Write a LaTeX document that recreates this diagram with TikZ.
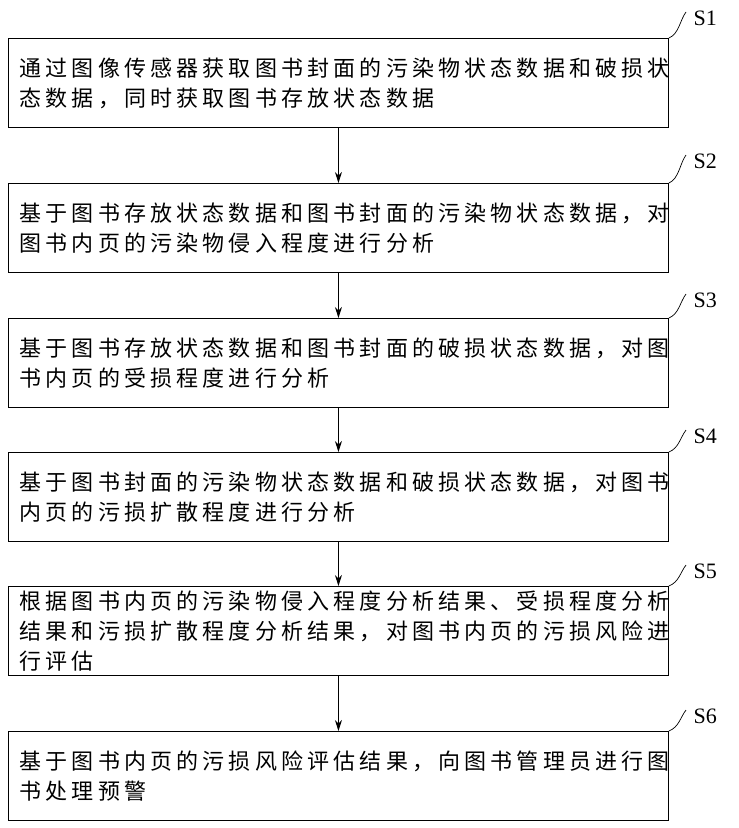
\documentclass[tikz,border=0pt]{standalone}
\usepackage{fontspec}
\newfontfamily\cjk[LetterSpace=19]{Noto Sans CJK SC}
\setmainfont{Liberation Serif}
\usetikzlibrary{arrows.meta}
\tikzset{
  stepbox/.style={draw,line width=0.9pt,minimum width=660pt,minimum height=89pt,
    anchor=north west,inner sep=0pt},
  steptext/.style={anchor=west,align=left,font=\cjk\fontsize{22}{30}\selectfont},
  steplabel/.style={font=\fontsize{22}{24}\selectfont},
  flow/.style={-{Stealth[length=11pt,width=7pt]},line width=0.9pt},
  leader/.style={line width=0.7pt}
}
\begin{document}
\begin{tikzpicture}[x=1pt,y=-1pt]
  \useasboundingbox (0,0) rectangle (739,828);
  % boxes
  \foreach \name/\y in {1/38,2/183,3/318,4/452,5/586,6/731}
    \node[stepbox] (B-\name) at (8,\y) {};
  % texts
  \node[steptext] (T-1) at (16,83) {通过图像传感器获取图书封面的污染物状态数据和破损状\\态数据，同时获取图书存放状态数据};
  \node[steptext] (T-2) at (16,228) {基于图书存放状态数据和图书封面的污染物状态数据，对\\图书内页的污染物侵入程度进行分析};
  \node[steptext] (T-3) at (16,363) {基于图书存放状态数据和图书封面的破损状态数据，对图\\书内页的受损程度进行分析};
  \node[steptext] (T-4) at (16,497) {基于图书封面的污染物状态数据和破损状态数据，对图书\\内页的污损扩散程度进行分析};
  \node[steptext] (T-5) at (16,631) {根据图书内页的污染物侵入程度分析结果、受损程度分析\\结果和污损扩散程度分析结果，对图书内页的污损风险进\\行评估};
  \node[steptext] (T-6) at (16,776) {基于图书内页的污损风险评估结果，向图书管理员进行图\\书处理预警};
  % labels
  \foreach \name/\y in {1/18,2/161,3/300,4/436,5/571,6/716}
    \node[steplabel,anchor=west] (L-\name) at (690,\y) {S\name};
  % leaders
  \foreach \name in {1,...,6}
    \draw[leader] (B-\name.north east) .. controls +(10,-4) and +(-6,8) .. ([xshift=-4pt,yshift=6pt]L-\name.west);
  % arrows
  \foreach \a/\b in {1/2,2/3,3/4,4/5,5/6}
    \draw[flow] (B-\a.south) -- (B-\b.north);
\end{tikzpicture}
\end{document}
